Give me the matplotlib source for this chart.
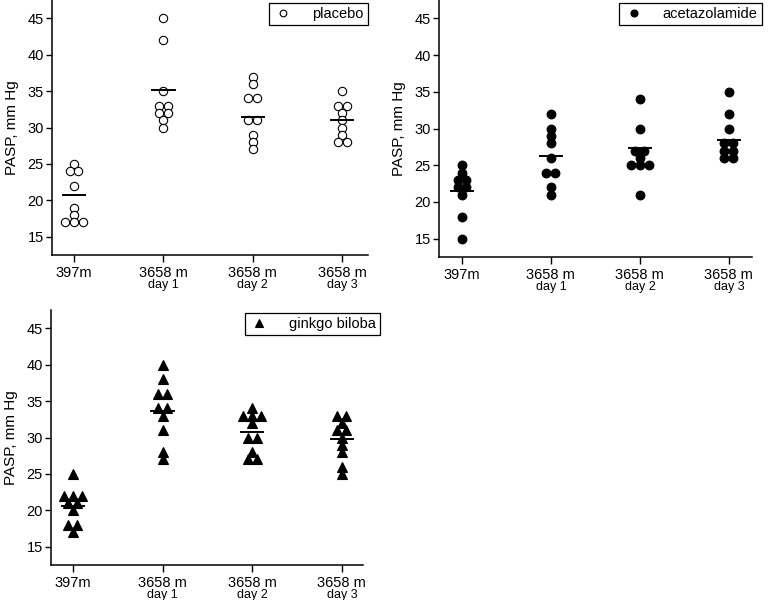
import matplotlib
matplotlib.use("Agg")
import matplotlib.pyplot as plt
from collections import Counter

plt.rcParams['font.family'] = ['Liberation Sans', 'DejaVu Sans']

sites = ["397m", "3658 m", "3658 m", "3658 m"]
days = ["", "day 1", "day 2", "day 3"]

placebo = [
    [25, 24, 24, 22, 19, 18, 17, 17, 17],
    [45, 42, 35, 33, 33, 32, 32, 31, 30],
    [37, 36, 34, 34, 31, 31, 29, 28, 27],
    [35, 33, 33, 32, 31, 30, 29, 28, 28],
]
placebo_mean = [20.7, 35.2, 31.5, 31.0]

acetazolamide = [
    [25, 24, 23, 23, 22, 22, 21, 18, 15],
    [32, 30, 29, 28, 26, 24, 24, 22, 21],
    [34, 30, 27, 27, 26, 25, 25, 25, 21],
    [35, 32, 30, 28, 28, 27, 27, 26, 26],
]
acetazolamide_mean = [21.5, 26.3, 27.3, 28.5]

ginkgo = [
    [25, 22, 22, 22, 21, 21, 20, 18, 18, 17],
    [40, 38, 36, 36, 34, 34, 33, 31, 28, 27],
    [34, 33, 33, 33, 32, 30, 30, 28, 27, 27],
    [33, 33, 32, 31, 31, 30, 29, 28, 26, 25],
]
ginkgo_mean = [20.6, 33.7, 30.7, 29.8]

W, H = 774, 600
fig = plt.figure(figsize=(W / 100, H / 100), dpi=100)


def spread(values, pos, step=0.1):
    # side-by-side placement of tied values
    counts = Counter(values)
    seen = Counter()
    xs = []
    for v in values:
        n = counts[v]
        xs.append(pos + (seen[v] - (n - 1) / 2) * step)
        seen[v] += 1
    return xs


def panel(px, label, groups, means, marker, face, ms, xlim, leg_x):
    left, top, right, bottom = px
    ax = fig.add_axes([left / W, 1 - bottom / H, (right - left) / W, (bottom - top) / H])
    for i, vals in enumerate(groups):
        xs = spread(vals, i)
        ax.plot(xs, vals, linestyle='none', marker=marker, markersize=ms,
                markerfacecolor=face, markeredgecolor='black', markeredgewidth=0.8,
                color='black', label=label if i == 0 else None)
        ax.plot([i - 0.125, i + 0.125], [means[i], means[i]], color='black', lw=1.4)
    ax.set_xlim(*xlim)
    ax.set_ylim(12.5, 47.5)
    ax.set_yticks([15, 20, 25, 30, 35, 40, 45])
    ax.set_xticks(range(4))
    ax.set_xticklabels(sites, fontsize=10.5)
    for i, d in enumerate(days):
        if d:
            ax.annotate(d, xy=(i, 0), xycoords=('data', 'axes fraction'),
                        xytext=(0, -17.5), textcoords='offset points',
                        ha='center', va='top', fontsize=9)
    ax.tick_params(axis='y', labelsize=10.5, length=4, width=1, pad=2)
    ax.tick_params(axis='x', length=5, width=1, pad=3)
    for s in ['top', 'right']:
        ax.spines[s].set_visible(False)
    for s in ['left', 'bottom']:
        ax.spines[s].set_linewidth(1.1)
    ax.set_ylabel("PASP, mm Hg", fontsize=11, labelpad=6)
    leg = ax.legend(loc='upper right', bbox_to_anchor=(leg_x, 0.99), fontsize=10.5,
                    fancybox=False, edgecolor='black', framealpha=1,
                    handlelength=1.4, handletextpad=1.3, borderpad=0.3,
                    borderaxespad=0, markerscale=0.8)
    leg.get_frame().set_linewidth(0.9)
    return ax


panel((52, 0, 368, 255), "placebo", placebo, placebo_mean, 'o', 'white', 6.0,
      (-0.246, 3.29), 1.0)
panel((439, 0, 752, 257), "acetazolamide", acetazolamide, acetazolamide_mean, 'o', 'black', 6.3,
      (-0.258, 3.26), 1.032)
panel((51, 310, 363, 565), "ginkgo biloba", ginkgo, ginkgo_mean, '^', 'black', 7.5,
      (-0.245, 3.235), 1.054)

fig.savefig("out.png", dpi=100)
